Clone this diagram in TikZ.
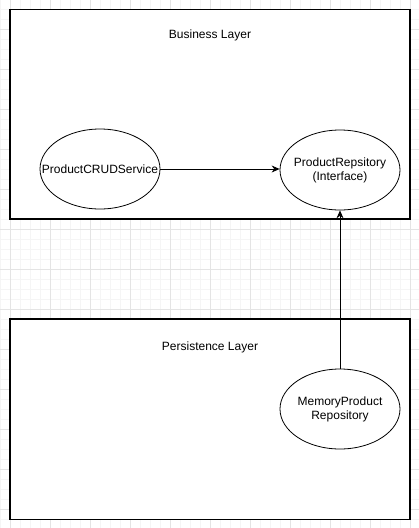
\documentclass[tikz,border=0pt]{standalone}
\usepackage{fontspec}
\setmainfont{Liberation Sans}
\usetikzlibrary{shapes.geometric,arrows.meta}
\definecolor{gridminor}{HTML}{F5F5F5}
\definecolor{gridmajor}{HTML}{E4E4E4}
\begin{document}
\begin{tikzpicture}[x=1pt,y=-1pt,
  layerbox/.style={draw=black,line width=1.1pt,fill=white},
  oval/.style={ellipse,draw=black,line width=0.8pt,fill=white,minimum width=120pt,minimum height=80pt,inner sep=0pt},
  lbl/.style={font=\fontsize{12}{14}\selectfont,align=center,inner sep=0pt},
  conn/.style={draw=black,line width=0.8pt,-{Stealth[length=8pt,width=7pt]}}]
\useasboundingbox (0,0) rectangle (419,528);
\fill[white] (0,0) rectangle (419,528);
% grid
\foreach \x in {0,10,...,410} {\draw[gridminor,line width=0.6pt] (\x,0) -- (\x,528);}
\foreach \y in {9,19,...,528} {\draw[gridminor,line width=0.6pt] (0,\y) -- (419,\y);}
\foreach \x in {10,50,...,410} {\draw[gridmajor,line width=0.6pt] (\x,0) -- (\x,528);}
\foreach \y in {29,69,...,528} {\draw[gridmajor,line width=0.6pt] (0,\y) -- (419,\y);}
% layers
\draw[layerbox] (10,9.5) rectangle (410,219);
\draw[layerbox] (10,319) rectangle (410,519.5);
\node[lbl] (bl) at (210,35) {Business Layer};
\node[lbl] (pl) at (210,347) {Persistence Layer};
% nodes
\node[oval] (crud) at (100,169) {};
\node[lbl] (crudt) at (crud.center) {ProductCRUDService};
\node[oval] (repo) at (340,170) {};
\node[lbl] (repot) at (repo.center) {ProductRepsitory\\(Interface)};
\node[oval] (mem) at (340,409) {};
\node[lbl] (memt) at (mem.center) {MemoryProduct\\Repository};
% connectors
\draw[conn] (crud) -- (crud -| repo.west);
\draw[conn] (mem) -- (repo);
\end{tikzpicture}
\end{document}
